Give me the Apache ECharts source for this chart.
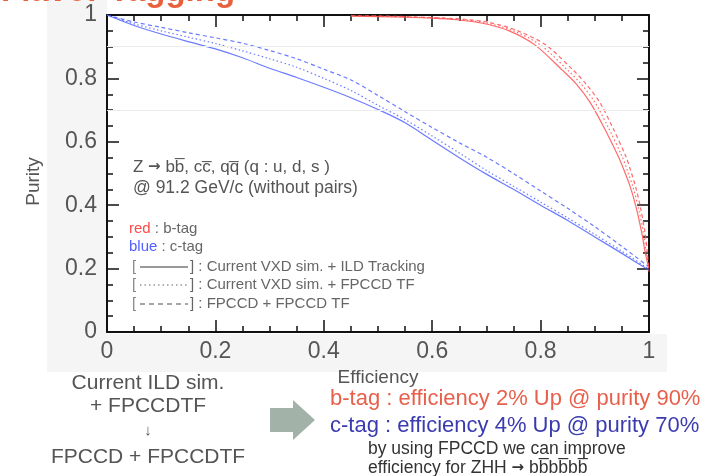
<!DOCTYPE html>
<html>
<head>
<meta charset="utf-8">
<script src="https://cdn.jsdelivr.net/npm/echarts@6/dist/echarts.min.js"></script>
<style>
  html, body { margin: 0; padding: 0; background: #fff; }
  #chart { width: 715px; height: 476px; }
</style>
</head>
<body>
<div id="chart"></div>
<script>
// b-tag curves (efficiency, purity)
const bSolidEff   = [0.45, 0.5, 0.55, 0.6, 0.645, 0.693, 0.742, 0.79, 0.84, 0.866, 0.891, 0.917, 0.943, 0.954, 0.965, 0.976, 0.987, 0.993, 1.0];
const bSolidPur   = [0.996, 0.995, 0.993, 0.99, 0.985, 0.974, 0.95, 0.905, 0.826, 0.782, 0.725, 0.645, 0.555, 0.51, 0.46, 0.395, 0.31, 0.25, 0.2];
const bDottedEff  = [0.45, 0.5, 0.55, 0.6, 0.65, 0.7, 0.75, 0.8, 0.85, 0.875, 0.9, 0.925, 0.95, 0.96, 0.97, 0.98, 0.99, 0.995, 1.0];
const bDottedPur  = [0.997, 0.996, 0.994, 0.991, 0.986, 0.975, 0.95, 0.905, 0.826, 0.782, 0.725, 0.645, 0.555, 0.51, 0.46, 0.395, 0.31, 0.25, 0.195];
const bDashedEff  = [0.45, 0.5, 0.55, 0.6, 0.655, 0.707, 0.758, 0.81, 0.86, 0.884, 0.909, 0.933, 0.957, 0.966, 0.975, 0.984, 0.993, 0.997, 1.0];
const bDashedPur  = [0.998, 0.997, 0.995, 0.992, 0.987, 0.976, 0.95, 0.905, 0.826, 0.782, 0.725, 0.645, 0.555, 0.51, 0.46, 0.395, 0.31, 0.25, 0.19];

// c-tag curves (efficiency, purity)
const cEff        = [0, 0.05, 0.1, 0.15, 0.2, 0.25, 0.3, 0.35, 0.4, 0.45, 0.5, 0.55, 0.6, 0.65, 0.7, 0.75, 0.8, 0.85, 0.9, 0.95, 1.0];
const cSolidPur   = [1.0, 0.967, 0.94, 0.916, 0.893, 0.865, 0.832, 0.803, 0.772, 0.739, 0.702, 0.66, 0.605, 0.55, 0.498, 0.45, 0.40, 0.352, 0.30, 0.248, 0.195];
const cDottedPur  = [1.0, 0.972, 0.95, 0.93, 0.91, 0.887, 0.862, 0.835, 0.80, 0.762, 0.715, 0.67, 0.618, 0.565, 0.51, 0.46, 0.41, 0.36, 0.308, 0.255, 0.198];
const cDashedPur  = [1.0, 0.978, 0.961, 0.944, 0.928, 0.911, 0.888, 0.862, 0.829, 0.795, 0.746, 0.695, 0.645, 0.597, 0.552, 0.50, 0.445, 0.39, 0.332, 0.27, 0.205];

// reference purity levels
const refPurity = [0.9, 0.7];

const FONT = '"Liberation Sans", Arial, Helvetica, sans-serif';
const ARROW_FONT = '"DejaVu Sans", sans-serif';
const RED = 'rgba(255,80,80,0.85)';
const BLUE = 'rgba(70,90,255,0.8)';
const gray = '#555';

function zip(xs, ys) { return xs.map((x, i) => [x, ys[i]]); }

function curve(name, xs, ys, color, type) {
  return {
    name, type: 'line', data: zip(xs, ys), showSymbol: false, smooth: 0.3,
    lineStyle: { color, width: 1.2, type }, silent: true, z: 3
  };
}

// frame axis: major ticks every 0.2 (optionally labelled) or minor ticks every 0.05
function frameAxis(pos, opts) {
  const minor = opts.minor;
  return {
    type: 'value', min: 0, max: 1, interval: minor ? 0.05 : 0.2, position: pos,
    axisLine: { show: !minor, onZero: false, lineStyle: { color: '#111', width: 2 } },
    axisTick: { show: true, inside: true, length: minor ? 6 : 12, lineStyle: { color: '#111', width: 1.5 } },
    splitLine: { show: false },
    axisLabel: { show: !!opts.label, color: gray, fontSize: 23, fontFamily: FONT, margin: opts.margin || 8 },
  };
}

const chart = echarts.init(document.getElementById('chart'), null, { renderer: 'canvas' });

const refLineSeries = {
  type: 'line', data: [], silent: true,
  markLine: {
    silent: true, symbol: 'none', label: { show: false },
    lineStyle: { color: '#ececec', width: 1, type: 'solid' },
    data: refPurity.map(v => ({ yAxis: v }))
  }
};

const graphic = [
  // light panel behind the axis labels
  { type: 'rect', shape: { x: 47, y: 0, width: 60, height: 372 }, style: { fill: '#f5f5f5' }, z: -10, silent: true },
  { type: 'rect', shape: { x: 107, y: 334, width: 560, height: 38 }, style: { fill: '#f5f5f5' }, z: -10, silent: true },
  // heading
  { type: 'text', style: { text: 'Flavor Tagging', x: 1, y: 8, font: 'bold 33px ' + FONT, fill: '#e8603c', verticalAlign: 'bottom' } },
  // process description
  { type: 'text', style: { text: 'Z {a|\u2192} bb\u0305, cc\u0305, qq\u0305 (q : u, d, s )', x: 133, y: 167, font: '17px ' + FONT, fill: gray, verticalAlign: 'middle',
      rich: { a: { font: 'bold 15px ' + ARROW_FONT, fill: gray } } } },
  { type: 'text', style: { text: '@ 91.2 GeV/c (without pairs)', x: 133, y: 188, font: '17.5px ' + FONT, fill: gray, verticalAlign: 'middle' } },
  // colour key
  { type: 'text', style: { text: '{r|red} : b-tag', x: 129, y: 229, font: '15px ' + FONT, fill: '#666', verticalAlign: 'middle',
      rich: { r: { fill: '#ff4a4a', font: '15px ' + FONT } } } },
  { type: 'text', style: { text: '{b|blue} : c-tag', x: 129, y: 247, font: '15px ' + FONT, fill: '#666', verticalAlign: 'middle',
      rich: { b: { fill: '#5060ff', font: '15px ' + FONT } } } },
  // line-style key
  { type: 'text', style: { text: '[', x: 132, y: 267, font: '15px ' + FONT, fill: '#888', verticalAlign: 'middle' } },
  { type: 'line', shape: { x1: 140, y1: 267, x2: 188, y2: 267 }, style: { stroke: '#777', lineWidth: 1.6 } },
  { type: 'text', style: { text: '] : Current VXD sim. + ILD Tracking', x: 190, y: 267, font: '15px ' + FONT, fill: '#666', verticalAlign: 'middle' } },
  { type: 'text', style: { text: '[', x: 132, y: 285, font: '15px ' + FONT, fill: '#888', verticalAlign: 'middle' } },
  { type: 'line', shape: { x1: 140, y1: 285, x2: 188, y2: 285 }, style: { stroke: '#999', lineWidth: 1.3, lineDash: [1.5, 3] } },
  { type: 'text', style: { text: '] : Current VXD sim. + FPCCD TF', x: 190, y: 285, font: '15px ' + FONT, fill: '#666', verticalAlign: 'middle' } },
  { type: 'text', style: { text: '[', x: 132, y: 304, font: '15px ' + FONT, fill: '#888', verticalAlign: 'middle' } },
  { type: 'line', shape: { x1: 140, y1: 304, x2: 188, y2: 304 }, style: { stroke: '#888', lineWidth: 1.3, lineDash: [5, 4] } },
  { type: 'text', style: { text: '] : FPCCD + FPCCD TF', x: 190, y: 304, font: '15px ' + FONT, fill: '#666', verticalAlign: 'middle' } },
  // setup comparison
  { type: 'text', style: { text: 'Current ILD sim.', x: 148, y: 383, font: '21px ' + FONT, fill: gray, align: 'center', verticalAlign: 'middle' } },
  { type: 'text', style: { text: '+ FPCCDTF', x: 148, y: 406, font: '21px ' + FONT, fill: gray, align: 'center', verticalAlign: 'middle' } },
  { type: 'text', style: { text: '\u2193', x: 148, y: 431, font: '15px ' + FONT, fill: gray, align: 'center', verticalAlign: 'middle' } },
  { type: 'text', style: { text: 'FPCCD + FPCCDTF', x: 148, y: 457, font: '21px ' + FONT, fill: gray, align: 'center', verticalAlign: 'middle' } },
  // block arrow
  { type: 'polygon', shape: { points: [[270, 408], [293, 408], [293, 400], [315, 420], [293, 440], [293, 432], [270, 432]] },
    style: { fill: '#a3b2a8' } },
  // results
  { type: 'text', style: { text: 'b-tag : efficiency 2% Up @ purity 90%', x: 330, y: 399, font: '22px ' + FONT, fill: '#e8604c', verticalAlign: 'middle' } },
  { type: 'text', style: { text: 'c-tag : efficiency 4% Up @ purity 70%', x: 330, y: 426, font: '22px ' + FONT, fill: '#3b3bb0', verticalAlign: 'middle' } },
  { type: 'text', style: { text: 'by using FPCCD we can improve', x: 368, y: 449, font: '17.5px ' + FONT, fill: '#333', verticalAlign: 'middle' } },
  { type: 'text', style: { text: 'efficiency for ZHH {a|\u2192} bb\u0305bb\u0305bb\u0305', x: 368, y: 468, font: '17.5px ' + FONT, fill: '#333', verticalAlign: 'middle',
      rich: { a: { font: 'bold 15px ' + ARROW_FONT, fill: '#333' } } } },
];

chart.setOption({
  animation: false,
  backgroundColor: '#fff',
  grid: { left: 107, right: 66, top: 15, bottom: 144, containLabel: false, outerBoundsMode: 'none',
          show: true, backgroundColor: '#fff', borderWidth: 0 },
  xAxis: [
    Object.assign(frameAxis('bottom', { label: true, margin: 8 }), {
      name: 'Efficiency', nameLocation: 'middle', nameGap: 36,
      nameTextStyle: { color: gray, fontSize: 19, fontFamily: FONT }
    }),
    frameAxis('top', {}),
    frameAxis('bottom', { minor: true }),
    frameAxis('top', { minor: true })
  ],
  yAxis: [
    Object.assign(frameAxis('left', { label: true, margin: 10 }), {
      name: 'Purity', nameLocation: 'middle', nameGap: 64, nameRotate: 90,
      nameTextStyle: { color: gray, fontSize: 19, fontFamily: FONT, padding: [0, 16, 0, 0] }
    }),
    frameAxis('right', {}),
    frameAxis('left', { minor: true }),
    frameAxis('right', { minor: true })
  ],
  series: [
    refLineSeries,
    curve('c solid', cEff, cSolidPur, BLUE, 'solid'),
    curve('c dotted', cEff, cDottedPur, BLUE, [1.5, 2.5]),
    curve('c dashed', cEff, cDashedPur, BLUE, [4, 3]),
    curve('b solid', bSolidEff, bSolidPur, RED, 'solid'),
    curve('b dotted', bDottedEff, bDottedPur, RED, [1.5, 2.5]),
    curve('b dashed', bDashedEff, bDashedPur, RED, [4, 3]),
  ],
  graphic
});
</script>
</body>
</html>
